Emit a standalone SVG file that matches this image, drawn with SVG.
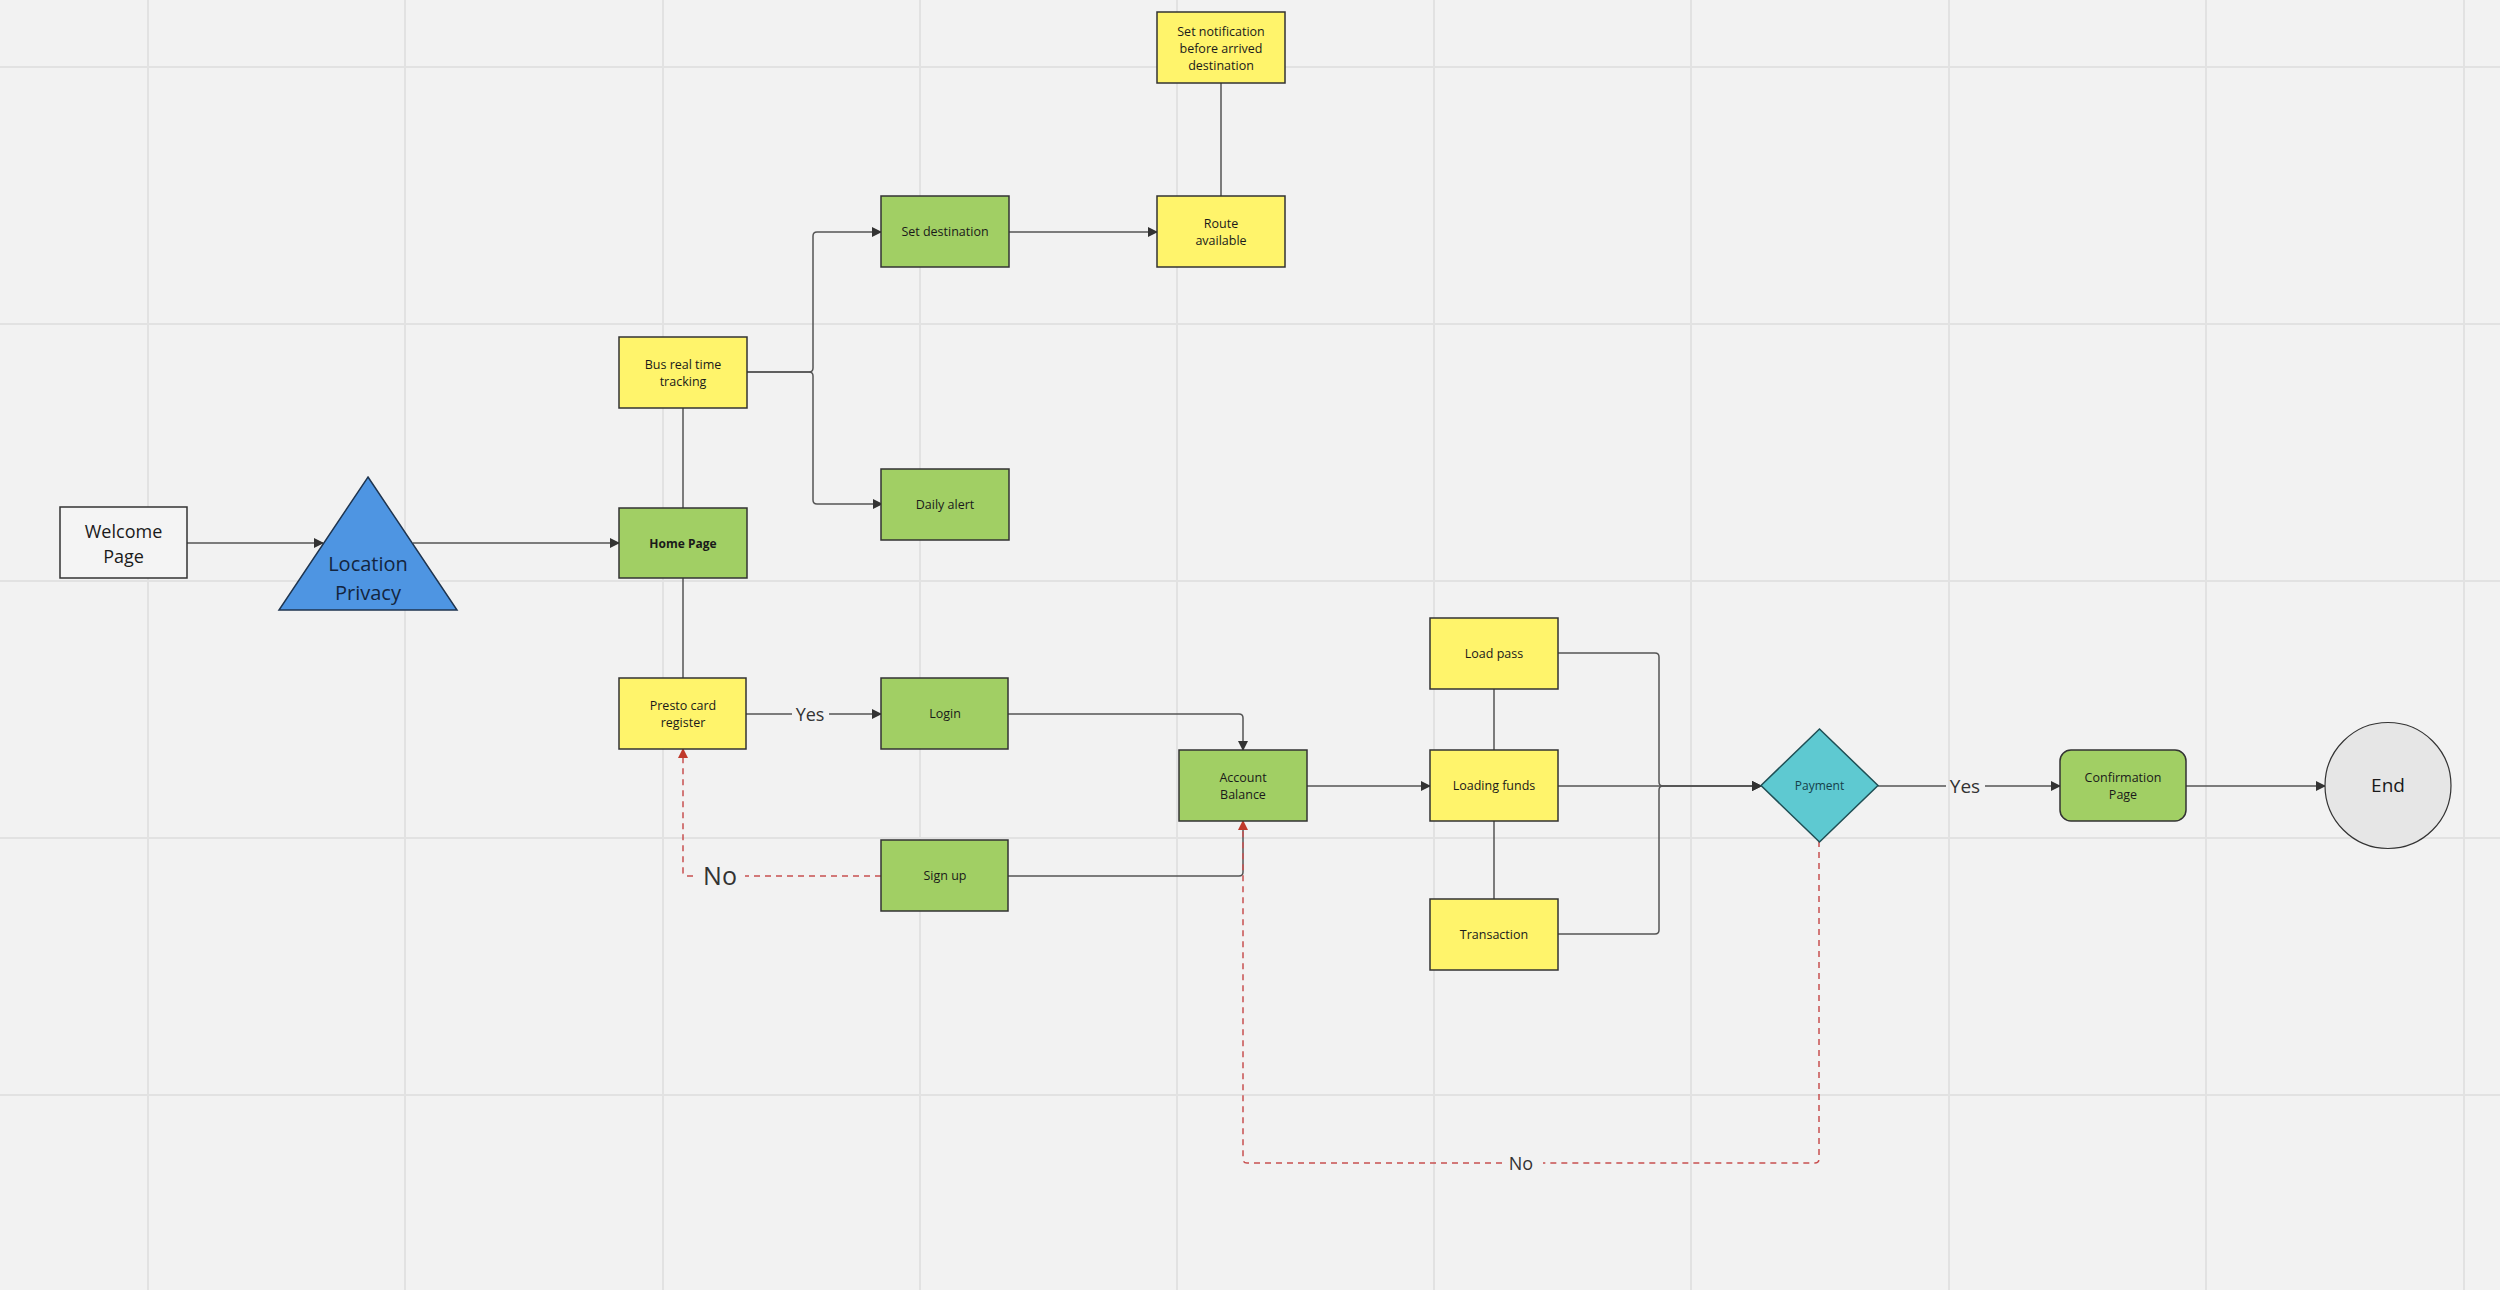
<svg xmlns="http://www.w3.org/2000/svg" width="2500" height="1290" viewBox="0 0 2500 1290">
  <defs>
    <marker id="arr" viewBox="0 0 10 10" refX="9" refY="5" markerWidth="10" markerHeight="10" markerUnits="userSpaceOnUse" orient="auto">
      <path d="M0,0 L10,5 L0,10 z" fill="#333"/>
    </marker>
    <marker id="arrRed" viewBox="0 0 10 10" refX="9" refY="5" markerWidth="10" markerHeight="10" markerUnits="userSpaceOnUse" orient="auto">
      <path d="M0,0 L10,5 L0,10 z" fill="#c0392b"/>
    </marker>
    <style>
      .grid { stroke: #e2e2e2; stroke-width: 2; }
      .box { stroke: #333; stroke-width: 1.5; }
      .yellow { fill: #fff46b; }
      .green { fill: #a1cf64; }
      .t { font-family: "Open Sans", "Liberation Sans", sans-serif; font-size: 12.5px; fill: #1a1a1a; text-anchor: middle; }
      .big { font-size: 18px; }
      .lp { font-size: 20px; fill: #13253f; }
      .conn { fill: none; stroke: #555; stroke-width: 1.5; }
      .dash { fill: none; stroke: #c85050; stroke-width: 1.5; stroke-dasharray: 6 5; }
      .lbl { font-family: "Open Sans", "Liberation Sans", sans-serif; fill: #333; text-anchor: middle; }
    </style>
  </defs>
  <rect x="0" y="0" width="2500" height="1290" fill="#f2f2f2"/>
  <g id="grid">
    <line class="grid" x1="148" y1="0" x2="148" y2="1290"/>
    <line class="grid" x1="405" y1="0" x2="405" y2="1290"/>
    <line class="grid" x1="663" y1="0" x2="663" y2="1290"/>
    <line class="grid" x1="920" y1="0" x2="920" y2="1290"/>
    <line class="grid" x1="1177" y1="0" x2="1177" y2="1290"/>
    <line class="grid" x1="1434" y1="0" x2="1434" y2="1290"/>
    <line class="grid" x1="1691" y1="0" x2="1691" y2="1290"/>
    <line class="grid" x1="1949" y1="0" x2="1949" y2="1290"/>
    <line class="grid" x1="2206" y1="0" x2="2206" y2="1290"/>
    <line class="grid" x1="2464" y1="0" x2="2464" y2="1290"/>
    <line class="grid" x1="0" y1="67" x2="2500" y2="67"/>
    <line class="grid" x1="0" y1="324" x2="2500" y2="324"/>
    <line class="grid" x1="0" y1="581" x2="2500" y2="581"/>
    <line class="grid" x1="0" y1="838" x2="2500" y2="838"/>
    <line class="grid" x1="0" y1="1095" x2="2500" y2="1095"/>
  </g>

  <g id="connectors">
    <path class="conn" d="M187 543 H323" marker-end="url(#arr)"/>
    <path class="conn" d="M413 543 H619" marker-end="url(#arr)"/>
    <path class="conn" d="M683 408 V508"/>
    <path class="conn" d="M683 578 V678"/>
    <path class="conn" d="M747 372 H809 Q813 372 813 368 V236 Q813 232 817 232 H881" marker-end="url(#arr)"/>
    <path class="conn" d="M747 372 H809 Q813 372 813 376 V500 Q813 504 817 504 H882" marker-end="url(#arr)"/>
    <path class="conn" d="M1009 232 H1157" marker-end="url(#arr)"/>
    <path class="conn" d="M1221 83 V196"/>
    <path class="conn" d="M746 714 H792"/>
    <path class="conn" d="M829 714 H881" marker-end="url(#arr)"/>
    <text class="lbl" x="810" y="720.5" font-size="18">Yes</text>
    <path class="conn" d="M1008 714 H1239 Q1243 714 1243 718 V750" marker-end="url(#arr)"/>
    <path class="conn" d="M1008 876 H1239 Q1243 876 1243 872 V823"/>
    <path class="dash" d="M881 876 H745"/>
    <path class="dash" d="M693 876 H687 Q683 876 683 872 V749" marker-end="url(#arrRed)"/>
    <text class="lbl" x="720" y="885" font-size="25">No</text>
    <path class="conn" d="M1307 786 H1430" marker-end="url(#arr)"/>
    <path class="conn" d="M1494 689 V750"/>
    <path class="conn" d="M1494 821 V899"/>
    <path class="conn" d="M1558 653 H1655 Q1659 653 1659 657 V782 Q1659 786 1663 786 H1761" marker-end="url(#arr)"/>
    <path class="conn" d="M1558 786 H1761" marker-end="url(#arr)"/>
    <path class="conn" d="M1558 934 H1655 Q1659 934 1659 930 V790 Q1659 786 1663 786 H1761" marker-end="url(#arr)"/>
    <path class="conn" d="M1878 786 H1946"/>
    <path class="conn" d="M1985 786 H2060" marker-end="url(#arr)"/>
    <text class="lbl" x="1965" y="792.5" font-size="19">Yes</text>
    <path class="conn" d="M2186 786 H2325" marker-end="url(#arr)"/>
    <path class="dash" d="M1819 841 V1159 Q1819 1163 1815 1163 H1543"/>
    <path class="dash" d="M1502 1163 H1247 Q1243 1163 1243 1159 V821" marker-end="url(#arrRed)"/>
    <text class="lbl" x="1521" y="1170" font-size="18">No</text>
  </g>

  <g id="welcome">
    <rect class="box" x="60" y="507" width="127" height="71" fill="#f4f4f4"/>
    <text class="t big" x="123.5" y="538">Welcome</text>
    <text class="t big" x="123.5" y="563">Page</text>
  </g>
  <g id="location-privacy">
    <polygon points="368,477 457,610 279,610" fill="#4e95e2" stroke="#1f3550" stroke-width="1.5"/>
    <text class="t lp" x="368" y="571">Location</text>
    <text class="t lp" x="368" y="600">Privacy</text>
  </g>
  <g id="home-page">
    <rect class="box green" x="619" y="508" width="128" height="70"/>
    <text class="t" x="683" y="547.5" font-weight="bold" style="font-size:12px">Home Page</text>
  </g>
  <g id="bus-tracking">
    <rect class="box yellow" x="619" y="337" width="128" height="71"/>
    <text class="t" x="683" y="369">Bus real time</text>
    <text class="t" x="683" y="386">tracking</text>
  </g>
  <g id="set-destination">
    <rect class="box green" x="881" y="196" width="128" height="71"/>
    <text class="t" x="945" y="236">Set destination</text>
  </g>
  <g id="daily-alert">
    <rect class="box green" x="881" y="469" width="128" height="71"/>
    <text class="t" x="945" y="509">Daily alert</text>
  </g>
  <g id="route-available">
    <rect class="box yellow" x="1157" y="196" width="128" height="71"/>
    <text class="t" x="1221" y="228">Route</text>
    <text class="t" x="1221" y="245">available</text>
  </g>
  <g id="set-notification">
    <rect class="box yellow" x="1157" y="12" width="128" height="71"/>
    <text class="t" x="1221" y="36">Set notification</text>
    <text class="t" x="1221" y="53">before arrived</text>
    <text class="t" x="1221" y="70">destination</text>
  </g>
  <g id="presto">
    <rect class="box yellow" x="619" y="678" width="127" height="71"/>
    <text class="t" x="683" y="710">Presto card</text>
    <text class="t" x="683" y="727">register</text>
  </g>
  <g id="login">
    <rect class="box green" x="881" y="678" width="127" height="71"/>
    <text class="t" x="945" y="718">Login</text>
  </g>
  <g id="sign-up">
    <rect class="box green" x="881" y="840" width="127" height="71"/>
    <text class="t" x="945" y="880">Sign up</text>
  </g>
  <g id="account-balance">
    <rect class="box green" x="1179" y="750" width="128" height="71"/>
    <text class="t" x="1243" y="782">Account</text>
    <text class="t" x="1243" y="799">Balance</text>
  </g>
  <g id="load-pass">
    <rect class="box yellow" x="1430" y="618" width="128" height="71"/>
    <text class="t" x="1494" y="658">Load pass</text>
  </g>
  <g id="loading-funds">
    <rect class="box yellow" x="1430" y="750" width="128" height="71"/>
    <text class="t" x="1494" y="790">Loading funds</text>
  </g>
  <g id="transaction">
    <rect class="box yellow" x="1430" y="899" width="128" height="71"/>
    <text class="t" x="1494" y="939">Transaction</text>
  </g>
  <g id="payment">
    <polygon points="1819.5,729 1878,785.5 1819.5,842 1761,785.5" fill="#5ec9d1" stroke="#1f4f55" stroke-width="1.5"/>
    <text class="t" x="1819.5" y="790" style="font-size:12px;fill:#15404a">Payment</text>
  </g>
  <g id="confirmation">
    <rect class="box green" x="2060" y="750" width="126" height="71" rx="11" ry="11"/>
    <text class="t" x="2123" y="782">Confirmation</text>
    <text class="t" x="2123" y="799">Page</text>
  </g>
  <g id="end">
    <circle cx="2388" cy="785.5" r="63" fill="#e6e6e6" stroke="#333" stroke-width="1.2"/>
    <text class="t" x="2388" y="792" style="font-size:19px">End</text>
  </g>
</svg>
